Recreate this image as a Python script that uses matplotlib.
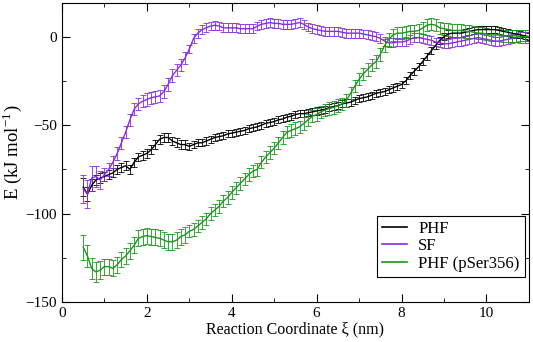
import numpy as np
import matplotlib
matplotlib.use("Agg")
import matplotlib.pyplot as plt
from matplotlib.ticker import MultipleLocator
from matplotlib.lines import Line2D

# reaction coordinate grid (nm)
xi = np.round(np.arange(0.5, 11.01, 0.1), 2)

phf = [-85, -89, -84, -81, -80, -79, -78, -77, -75, -74,
       -73, -75, -71, -68, -67, -66, -64, -61, -58, -57,
       -57, -59, -60, -61, -61, -62, -61, -60, -60, -59,
       -58, -57, -56.5, -56, -55, -54.5, -54, -53.5, -53, -52,
       -51.5, -51, -50, -49, -48.5, -48, -47, -46.5, -45.5, -45,
       -44, -43.5, -43.5, -43, -42.5, -42, -41.5, -41, -40, -39.5,
       -39, -38, -37.5, -37, -36, -35, -34.5, -34, -33, -32,
       -31.5, -31, -30, -29, -28, -27, -25, -22, -19.5, -17,
       -14, -11, -8, -5, -2, 0, 1.5, 2, 2, 2,
       2.5, 3, 3.5, 4, 4, 4, 4, 4, 3.5, 3,
       2.5, 2, 1.5, 1, 0.5, 0]
sf = [-86, -89, -80, -79, -81, -78, -75, -71, -66, -60,
      -54, -47, -41, -38, -36.5, -35.5, -34.5, -34, -33.5, -31,
      -27, -22, -19, -16, -12, -7, -1, 2, 4, 5,
      6, 6.5, 6, 5, 5, 5, 5, 4.5, 4.5, 4.5,
      4.5, 6, 7, 7.5, 8, 7.5, 7.5, 7, 7, 7,
      7.5, 8, 7, 5.5, 4.5, 4, 3.5, 3, 3, 3,
      3, 2.5, 2, 2, 2, 2, 1.5, 1, 0.5, 0,
      -1, -2.5, -3.5, -3.5, -3, -3, -2.5, -1.5, -0.5, -0.5,
      -1, -1.5, -2, -3, -3.5, -4, -4, -3.5, -3, -2.5,
      -2, -1.5, -1, -0.5, -1, -1.5, -2, -2.5, -2.5, -2,
      -1.5, -1, -0.5, 0, 0, 0]
phf_p = [-119, -124, -131, -133, -132, -130, -130, -131, -129, -126,
         -124, -121, -118, -114, -113, -112.5, -113, -113.5, -114, -115,
         -116, -116, -115, -113, -112, -110, -109, -107, -105, -103,
         -100, -98, -96, -93, -91, -88, -85.5, -83, -80.5, -78,
         -76, -75, -71, -68, -65.5, -63, -60, -57, -54, -53,
         -52, -51, -49, -47, -45, -44, -42.5, -41.5, -40.5, -40,
         -39, -38, -36, -32, -28, -24, -21, -18.5, -16, -14,
         -10, -5, -1.5, 1, 2, 2, 2.5, 3, 3, 3.5,
         5, 6.5, 7, 6.5, 5, 4.5, 4, 3.5, 3.5, 3.5,
         3, 3, 2.5, 2, 2, 1.5, 1, 1, 1, 0.5,
         0.5, 0.5, 0.5, 0, 0, 0]

# error bar half-widths (kJ/mol)
phf_err = [5, 4, 3.5, 3, 3] + [2.5] * 20 + [2] * 81
sf_err = [8, 8, 7, 6, 5] + [3.5] * 20 + [2.5] * 81
phf_p_err = [7, 6, 6, 5.5, 5] + [4.5] * 20 + [3.5] * 81

plt.rcParams.update({
    'font.family': 'Liberation Serif',
    'mathtext.fontset': 'stix',
    'font.size': 11,
})

fig = plt.figure(figsize=(5.33, 3.42), dpi=100)
ax = fig.add_axes([0.1163, 0.117, 0.876, 0.874])

series = [
    (phf, phf_err, "black", "PHF"),
    (sf, sf_err, "#8a2be2", "SF"),
    (phf_p, phf_p_err, "#18961a", "PHF (pSer356)"),
]
handles = []
for y, err, col, lab in series:
    ax.errorbar(xi, y, yerr=err, color=col, lw=1.0, elinewidth=0.6,
                capsize=2, capthick=0.6)
    handles.append(Line2D([], [], color=col, lw=1.2, label=lab))

ax.set_xlim(0, 11)
ax.set_ylim(-150, 19)
ax.xaxis.set_major_locator(MultipleLocator(2))
ax.xaxis.set_minor_locator(MultipleLocator(1))
ax.yaxis.set_major_locator(MultipleLocator(50))
ax.yaxis.set_minor_locator(MultipleLocator(25))
ax.tick_params(which='both', direction='in', top=True, right=True)
ax.tick_params(which='major', length=6)
ax.tick_params(which='minor', length=3)

ax.set_xlabel("Reaction Coordinate ξ (nm)", fontsize=11.5, labelpad=1)
ax.set_ylabel("E (kJ mol$^{\\mathregular{-1}}$)", fontsize=13.5, labelpad=1)

leg = ax.legend(handles=handles, loc='lower right', fancybox=False,
                edgecolor='black', framealpha=1, fontsize=12,
                handlelength=1.5, handletextpad=0.7, labelspacing=0.1,
                borderpad=0.3, borderaxespad=0,
                bbox_to_anchor=(0.991, 0.084))
leg.get_frame().set_linewidth(0.8)

plt.savefig("out.png", dpi=100)
